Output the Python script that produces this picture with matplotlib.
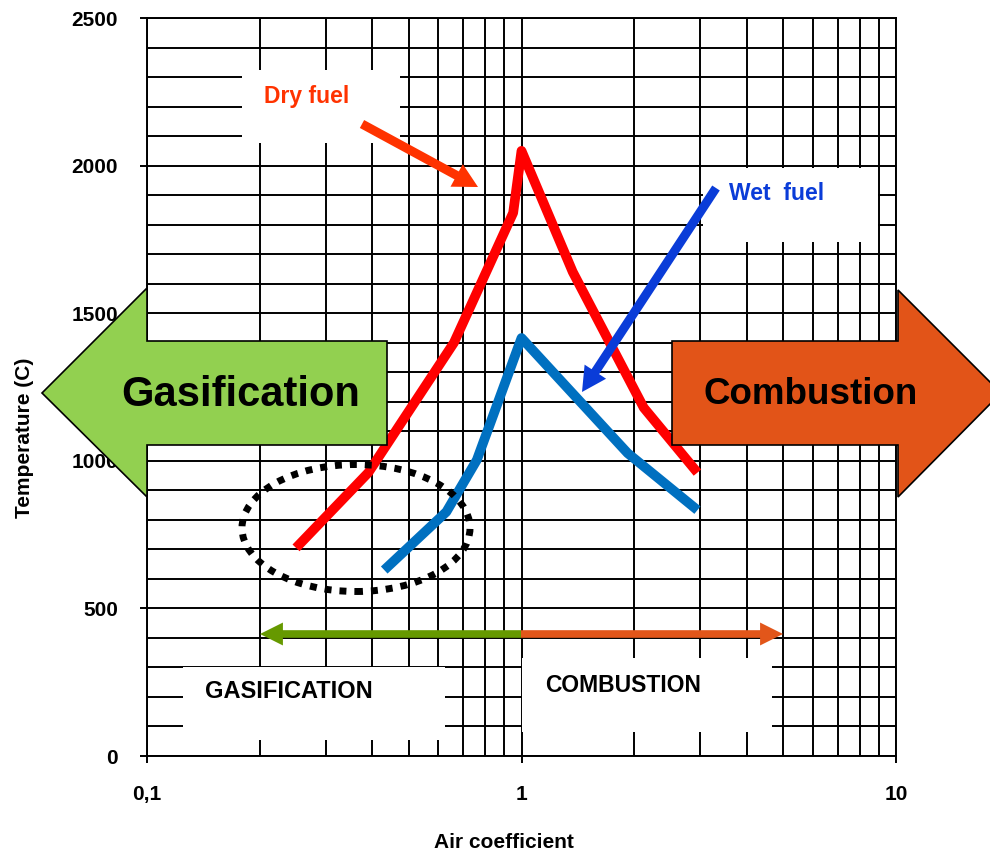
import matplotlib

matplotlib.use("Agg")
import matplotlib.pyplot as plt  # noqa: E402
from matplotlib.patches import Polygon, Rectangle, Ellipse, FancyArrowPatch  # noqa: E402

plt.rcParams["font.family"] = ["Liberation Sans", "DejaVu Sans"]
plt.rcParams["font.weight"] = "bold"

# Temperature vs air coefficient
air_dry = [0.25, 0.39, 0.66, 0.95, 1.0, 1.37, 2.12, 2.95]
temp_dry = [705, 960, 1400, 1840, 2050, 1640, 1180, 960]
air_wet = [0.43, 0.63, 0.76, 1.0, 1.92, 2.95]
temp_wet = [630, 827, 1003, 1416, 1026, 833]

x_ticks = [0.1, 1, 10]
x_tick_labels = ["0,1", "1", "10"]
y_ticks = [0, 500, 1000, 1500, 2000, 2500]

W, H = 990, 852
RED = "#FF0000"
BLUE = "#0070C0"
GREEN_BIG = "#92D050"
ORANGE_BIG = "#E25418"
GREEN_LINE = "#669900"
ORANGE_LINE = "#E2561A"
DRY_TXT = "#FF3300"
WET_TXT = "#0A3CD8"


def px(x, y):
    """Reference-image pixel (top-left origin) -> figure fraction."""
    return (x / W, 1 - y / H)


def block_arrow(tail, tip, colour, tail_w, head_w, head_l, zorder=5):
    # widths in points (mutation_scale=1)
    style = f"simple,head_width={head_w},head_length={head_l},tail_width={tail_w}"
    return FancyArrowPatch(px(*tail), px(*tip), transform=fig.transFigure,
                           arrowstyle=style, mutation_scale=1, color=colour,
                           linewidth=0, shrinkA=0, shrinkB=0, zorder=zorder)


fig = plt.figure(figsize=(W / 100, H / 100), dpi=100)
ax = fig.add_axes([147 / W, 1 - 756 / H, (896 - 147) / W, (756 - 18) / H])

ax.set_xscale("log")
ax.set_xlim(0.1, 10)
ax.set_ylim(0, 2500)
ax.set_xticks(x_ticks, x_tick_labels)
ax.set_yticks(y_ticks)
ax.set_yticks(range(0, 2501, 100), minor=True)
ax.set_axisbelow(True)
ax.grid(True, which="both", color="black", linewidth=1.4)
ax.tick_params(axis="both", which="major", direction="out", length=5, width=1.4,
               labelsize=15, color="black")
ax.tick_params(axis="y", which="major", pad=16)
ax.tick_params(axis="x", which="major", pad=16)
ax.tick_params(axis="both", which="minor", length=0)
for spine in ax.spines.values():
    spine.set_linewidth(1.4)

ax.set_xlabel("Air coefficient", fontsize=15, fontweight="bold")
ax.set_ylabel("Temperature (C)", fontsize=15, fontweight="bold")
ax.xaxis.set_label_coords((504 - 147) / 749, (756 - 842) / 738)
ax.xaxis.label.set_va("center")
ax.yaxis.set_label_coords((25 - 147) / 749, (756 - 438) / 738)
ax.yaxis.label.set_va("center")

# white label boxes that blank out the grid
for (x0, y0, x1, y1) in [(242, 70, 400, 143), (703, 168, 878, 242),
                         (183, 667, 445, 740), (522, 658, 772, 732)]:
    ax.add_patch(Rectangle(px(x0, y1), (x1 - x0) / W, (y1 - y0) / H,
                           transform=fig.transFigure, facecolor="white",
                           edgecolor="none", zorder=1))

ax.plot(air_dry, temp_dry, color=RED, linewidth=7, solid_joinstyle="round",
        solid_capstyle="butt", zorder=3)
ax.plot(air_wet, temp_wet, color=BLUE, linewidth=7, solid_joinstyle="round",
        solid_capstyle="butt", zorder=3)

# dotted ellipse around the low-air region
ax.add_patch(Ellipse(px(356, 528), 228 / W, 127 / H, transform=fig.transFigure,
                     fill=False, edgecolor="black", linewidth=5,
                     linestyle=(0, (1, 1.15)), zorder=4))

# pointer arrows for the fuel labels
ax.add_patch(block_arrow((362, 124), (478, 187), DRY_TXT, 6.5, 18.5, 17.5))
ax.add_patch(block_arrow((716, 188), (582, 392), WET_TXT, 6.5, 18.5, 17.5))

ax.text(*px(307, 96), "Dry fuel", transform=fig.transFigure, color=DRY_TXT,
        fontsize=16.5, ha="center", va="center", zorder=6)
ax.text(*px(777, 193), "Wet  fuel", transform=fig.transFigure, color=WET_TXT,
        fontsize=16.5, ha="center", va="center", zorder=6)
ax.text(*px(289, 692), "GASIFICATION", transform=fig.transFigure, color="black",
        fontsize=17, ha="center", va="center", zorder=6)
ax.text(*px(623, 685), "COMBUSTION", transform=fig.transFigure, color="black",
        fontsize=16.5, ha="center", va="center", zorder=6)

# horizontal regime arrows (meet at air coefficient 1)
ax.add_patch(block_arrow((521, 634), (260, 634), GREEN_LINE, 5.5, 16.5, 16.5))
ax.add_patch(block_arrow((521, 634), (783, 634), ORANGE_LINE, 5.5, 16.5, 16.5))

# big block arrows, drawn over the axes and tick labels
green_pts = [(42, 393), (147, 288), (147, 341), (387, 341), (387, 445), (147, 445), (147, 497)]
orange_pts = [(672, 341), (898, 341), (898, 290), (1001, 393), (898, 497), (898, 445), (672, 445)]
fig.add_artist(Polygon([px(*p) for p in green_pts], closed=True, facecolor=GREEN_BIG,
                       edgecolor="black", linewidth=1.2, transform=fig.transFigure, zorder=2))
fig.add_artist(Polygon([px(*p) for p in orange_pts], closed=True, facecolor=ORANGE_BIG,
                       edgecolor="black", linewidth=1.2, transform=fig.transFigure, zorder=2))
fig.text(*px(240.5, 395), "Gasification", fontsize=30, fontweight="bold",
         ha="center", va="center", zorder=3)
fig.text(*px(810.5, 395), "Combustion", fontsize=26.5, fontweight="bold",
         ha="center", va="center", zorder=3)

fig.savefig("out.png", dpi=100)
